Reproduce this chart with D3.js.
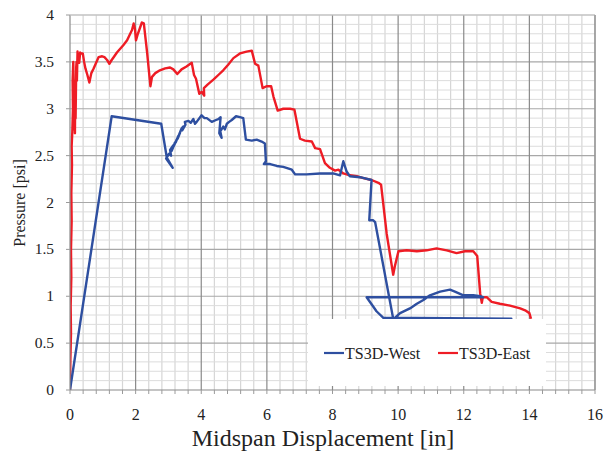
<!DOCTYPE html>
<html><head><meta charset="utf-8">
<script src="https://cdn.jsdelivr.net/npm/d3@7"></script>
<style>body{margin:0;background:#fff}svg{display:block}
text{font-family:"Liberation Serif","DejaVu Serif",serif;fill:#222}</style>
</head><body>
<svg id="c" width="616" height="457"></svg>
<script>
// ---- data ----
const xTicks = [0,2,4,6,8,10,12,14,16];
const yTicks = [0,0.5,1,1.5,2,2.5,3,3.5,4];
const yTickLabels = ["0","0.5","1","1.5","2","2.5","3","3.5","4"];
const seriesNames = ["TS3D-West","TS3D-East"];

const westDisp = [0,1.27,2.78,2.95,3.13,2.93,3.02,3.08,3.05,3.15,3.10,3.20,3.16,3.25,3.22,3.30,3.28,3.35,3.32,3.40,3.45,3.42,3.52,3.50,3.61,3.68,3.76,3.81,3.86,4.01,4.1,4.17,4.32,4.45,4.52,4.59,4.55,4.62,4.58,4.67,4.72,4.78,4.85,4.93,5.06,5.18,5.28,5.36,5.54,5.69,5.84,5.94,5.97,5.91,6.10,6.3,6.50,6.76,6.86,7.21,7.62,8.02,8.23,8.33,8.43,8.53,8.84,9.19,9.12,9.24,9.30,9.85,13.45,9.55,9.34,9.24,9.04,12.59,12.5,12.29,11.99,11.73,11.58,11.28,10.97,10.77,10.57,10.36,10.06,9.9];
const westPres = [0,2.92,2.84,2.48,2.37,2.47,2.52,2.50,2.56,2.61,2.55,2.64,2.60,2.67,2.64,2.71,2.68,2.74,2.72,2.79,2.81,2.77,2.83,2.86,2.87,2.85,2.89,2.84,2.86,2.93,2.90,2.90,2.86,2.88,2.89,2.91,2.74,2.69,2.76,2.81,2.78,2.84,2.86,2.88,2.92,2.91,2.90,2.67,2.66,2.67,2.65,2.63,2.44,2.41,2.41,2.39,2.38,2.35,2.30,2.30,2.31,2.31,2.29,2.44,2.33,2.28,2.27,2.24,1.81,1.81,1.79,0.76,0.76,0.77,0.84,0.89,0.99,0.99,1.00,1.01,1.01,1.05,1.07,1.05,1.01,0.96,0.92,0.87,0.82,0.77];

const eastDisp = [0,0.01,0.03,0.02,0.04,0.03,0.05,0.04,0.06,0.05,0.07,0.09,0.08,0.10,0.12,0.13,0.14,0.15,0.16,0.17,0.19,0.20,0.21,0.23,0.26,0.28,0.31,0.34,0.39,0.43,0.47,0.53,0.59,0.65,0.72,0.77,0.87,0.98,1.05,1.13,1.20,1.27,1.33,1.43,1.53,1.63,1.74,1.82,1.89,1.94,1.98,2.01,2.06,2.11,2.19,2.25,2.35,2.45,2.50,2.60,2.74,2.90,3.05,3.15,3.27,3.40,3.55,3.71,3.78,3.84,3.94,4.01,4.09,4.08,4.20,4.37,4.52,4.67,4.82,4.98,5.18,5.38,5.54,5.64,5.74,5.87,5.99,6.13,6.20,6.33,6.50,6.71,6.84,7.01,7.16,7.37,7.47,7.62,7.77,7.92,8.08,8.18,8.33,8.53,8.74,8.94,9.19,9.40,9.48,9.65,9.85,9.90,10.01,10.26,10.57,10.87,11.17,11.48,11.78,12.04,12.29,12.41,12.50,12.55,12.58,12.70,12.85,13.10,13.41,13.72,13.87,14.00,14.05];
const eastPres = [0,0.30,0.60,0.90,1.20,1.50,1.80,2.10,2.40,2.60,2.75,3.00,3.30,3.50,3.10,2.78,3.30,2.74,3.20,2.90,3.45,3.50,3.30,3.61,3.52,3.49,3.60,3.59,3.59,3.50,3.43,3.36,3.28,3.38,3.43,3.47,3.55,3.56,3.55,3.52,3.48,3.52,3.55,3.60,3.64,3.68,3.73,3.79,3.84,3.91,3.85,3.73,3.79,3.84,3.92,3.91,3.60,3.24,3.34,3.38,3.41,3.43,3.44,3.42,3.37,3.42,3.45,3.49,3.36,3.32,3.16,3.18,3.14,3.22,3.26,3.31,3.36,3.41,3.47,3.54,3.59,3.61,3.62,3.48,3.46,3.22,3.24,3.24,3.13,2.98,3.00,3.00,2.99,2.68,2.66,2.65,2.58,2.57,2.42,2.37,2.34,2.35,2.31,2.29,2.28,2.26,2.24,2.21,2.19,1.67,1.23,1.32,1.48,1.49,1.48,1.49,1.51,1.49,1.46,1.48,1.48,1.43,1.03,0.93,0.99,0.99,0.94,0.92,0.90,0.87,0.85,0.82,0.76];

// ---- drawing ----
const svg = d3.select("#c");
const x = d3.scaleLinear().domain([0,16]).range([70,595]);
const y = d3.scaleLinear().domain([0,4]).range([390,15]);

// grid
const g = svg.append("g");
const vMinor = d3.range(0,41).map(i=>i*0.4).filter(v=>Math.abs(v/2-Math.round(v/2))>1e-6);
const hMinor = d3.range(0,41).map(i=>i*0.1).filter(v=>Math.abs(v/0.5-Math.round(v/0.5))>1e-6);
g.selectAll(".vm").data(vMinor).join("line")
  .attr("x1",d=>x(d)).attr("x2",d=>x(d)).attr("y1",y(4)).attr("y2",y(0))
  .attr("stroke","#d6d6d6").attr("stroke-width",1.2);
g.selectAll(".hm").data(hMinor).join("line")
  .attr("x1",x(0)).attr("x2",x(16)).attr("y1",d=>y(d)).attr("y2",d=>y(d))
  .attr("stroke","#dcdcdc").attr("stroke-width",1);
g.selectAll(".hM").data(yTicks.slice(1)).join("line")
  .attr("x1",x(0)).attr("x2",x(16)).attr("y1",d=>y(d)).attr("y2",d=>y(d))
  .attr("stroke","#a8a8a8").attr("stroke-width",1.2);
g.selectAll(".vM").data(xTicks.slice(1)).join("line")
  .attr("x1",d=>x(d)).attr("x2",d=>x(d)).attr("y1",y(4)).attr("y2",y(0))
  .attr("stroke","#8a8a8a").attr("stroke-width",1.2);

// series
svg.append("clipPath").attr("id","clip").append("rect")
  .attr("x",x(0)).attr("y",y(4)).attr("width",x(16)-x(0)).attr("height",y(0)-y(4));
const line = d3.line().x(d=>x(d[0])).y(d=>y(d[1]));
const west = westDisp.map((v,i)=>[v,westPres[i]]);
const east = eastDisp.map((v,i)=>[v,eastPres[i]]);
const lg = svg.append("g").attr("clip-path","url(#clip)");
lg.append("path").datum(east).attr("d",line).attr("fill","none")
  .attr("stroke","#ee1c25").attr("stroke-width",2.4).attr("stroke-linejoin","round");
lg.append("path").datum(west).attr("d",line).attr("fill","none")
  .attr("stroke","#2e4fa0").attr("stroke-width",2.4).attr("stroke-linejoin","round");

// legend
const leg = svg.append("g");
leg.append("rect").attr("x",308).attr("y",319).attr("width",238).attr("height",67).attr("fill","#fff");
const legItems = [{name:seriesNames[0],color:"#2e4fa0",x:324},{name:seriesNames[1],color:"#ee1c25",x:438}];
legItems.forEach(it=>{
  leg.append("line").attr("x1",it.x).attr("x2",it.x+20).attr("y1",353).attr("y2",353)
    .attr("stroke",it.color).attr("stroke-width",2.2);
  leg.append("text").attr("x",it.x+21).attr("y",359).text(it.name)
    .style("font-size","16px");
});

// axes
const ax = svg.append("g");
ax.append("line").attr("x1",x(0)).attr("x2",x(16)).attr("y1",y(0)).attr("y2",y(0)).attr("stroke","#8a8a8a").attr("stroke-width",1.2);
ax.append("line").attr("x1",x(0)).attr("x2",x(0)).attr("y1",y(0)).attr("y2",y(4)).attr("stroke","#8a8a8a").attr("stroke-width",1.2);
ax.append("line").attr("x1",x(0)).attr("x2",x(16)).attr("y1",y(4)).attr("y2",y(4)).attr("stroke","#cfcfcf").attr("stroke-width",1.2);
ax.append("line").attr("x1",x(16)).attr("x2",x(16)).attr("y1",y(0)).attr("y2",y(4)).attr("stroke","#9a9a9a").attr("stroke-width",1.2);
ax.selectAll(".xt").data(d3.range(0,41).map(i=>i*0.4)).join("line")
  .attr("x1",d=>x(d)).attr("x2",d=>x(d)).attr("y1",y(0)).attr("y2",y(0)+4)
  .attr("stroke","#9a9a9a").attr("stroke-width",1);
ax.selectAll(".yt").data(yTicks).join("line")
  .attr("x1",x(0)-4).attr("x2",x(0)).attr("y1",d=>y(d)).attr("y2",d=>y(d))
  .attr("stroke","#9a9a9a").attr("stroke-width",1);
ax.selectAll(".xl").data(xTicks).join("text")
  .attr("x",d=>x(d)).attr("y",420).attr("text-anchor","middle")
  .style("font-size","16px").text(d=>d);
ax.selectAll(".yl").data(yTicks).join("text")
  .attr("x",54).attr("y",d=>y(d)+5).attr("text-anchor","end")
  .style("font-size","15.5px").text((d,i)=>yTickLabels[i]);

svg.append("text").attr("x",323).attr("y",446).attr("text-anchor","middle")
  .style("font-size","24px").text("Midspan Displacement [in]");
svg.append("text").attr("transform","translate(25,203) rotate(-90)").attr("text-anchor","middle")
  .style("font-size","16px").text("Pressure [psi]");
</script>
</body></html>
